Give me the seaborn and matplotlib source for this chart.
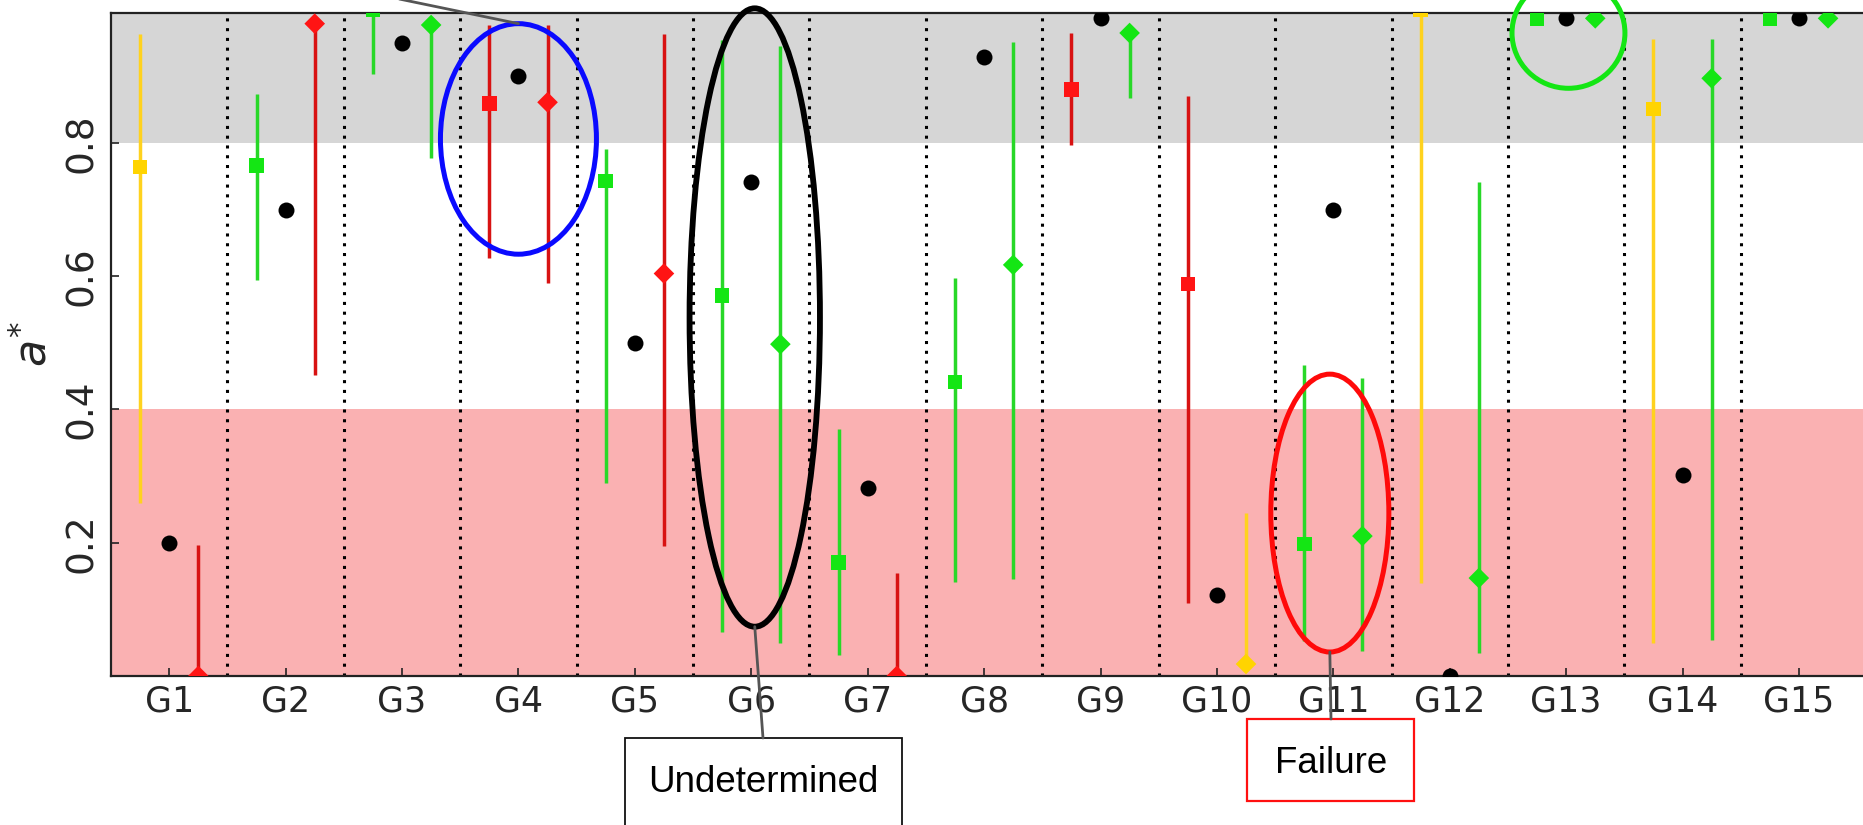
import numpy as np
import pandas as pd
import matplotlib
matplotlib.use("Agg")
import matplotlib.pyplot as plt
from matplotlib.patches import Ellipse, Rectangle
from matplotlib.lines import Line2D
import seaborn as sns

# ---------------- data ----------------
groups = ["G1", "G2", "G3", "G4", "G5", "G6", "G7", "G8", "G9", "G10",
          "G11", "G12", "G13", "G14", "G15"]

sq_val = [0.764, 0.766, 1.0, 0.859, 0.743, 0.571, 0.170, 0.441, 0.880, 0.588,
          0.198, 1.0, 0.987, 0.851, 0.987]
sq_lo = [0.260, 0.595, 0.904, 0.627, 0.290, 0.066, 0.032, 0.141, 0.797, 0.109,
         0.052, 0.139, 0.987, 0.049, 0.987]
sq_hi = [0.963, 0.873, 1.0, 0.977, 0.791, 0.954, 0.370, 0.598, 0.965, 0.870,
         0.466, 1.0, 0.987, 0.956, 0.987]
sq_col = ["yellow", "green", "green", "red", "green", "green", "green", "green",
          "red", "red", "green", "yellow", "green", "yellow", "green"]

ci_val = [0.200, 0.700, 0.950, 0.900, 0.500, 0.741, 0.282, 0.929, 0.988, 0.121,
          0.700, 0.0, 0.988, 0.301, 0.988]

di_val = [0.0, 0.979, 0.977, 0.861, 0.604, 0.498, 0.0, 0.617, 0.965, 0.018,
          0.210, 0.147, 0.987, 0.897, 0.987]
di_lo = [0.0, 0.452, 0.777, 0.590, 0.195, 0.050, 0.0, 0.145, 0.868, 0.018,
         0.037, 0.034, 0.987, 0.054, 0.987]
di_hi = [0.196, 0.979, 0.977, 0.977, 0.963, 0.945, 0.155, 0.952, 0.965, 0.245,
         0.447, 0.741, 0.987, 0.956, 0.987]
di_col = ["red", "red", "green", "red", "red", "green", "red", "green", "green",
          "yellow", "green", "green", "green", "green", "green"]

yticks = [0.2, 0.4, 0.6, 0.8]

marker_pal = {"red": "#ff1414", "green": "#14e614", "yellow": "#ffd400"}
bar_pal = {"red": "#d81212", "green": "#28d828", "yellow": "#ffd21e"}

# ---------------- style ----------------
sns.set_theme(style="white")
plt.rcParams["font.family"] = ["DejaVu Sans"]
plt.rcParams["mathtext.fontset"] = "dejavusans"

W, H = 1863, 825
fig = plt.figure(figsize=(W / 100, H / 100), dpi=100)
ax = fig.add_axes([111 / W, 1 - 676 / H, 1 - 111 / W, (676 - 13) / H])
ax.set_xlim(-0.5, 14.55)
ax.set_ylim(0, 0.995)

# background bands
ax.axhspan(0.8, 1.0, color="#d6d6d6", zorder=0, lw=0)
ax.axhspan(0.0, 0.4, color="#fab1b2", zorder=0, lw=0)

# dotted separators
for k in range(len(groups) - 1):
    ax.axvline(k + 0.5, color="black", lw=2.2, ls=(0, (1, 2.2)), zorder=1)

xpos = np.arange(len(groups))
off = 0.25

df_sq = pd.DataFrame({"x": xpos - off, "y": sq_val, "lo": sq_lo, "hi": sq_hi, "c": sq_col})
df_ci = pd.DataFrame({"x": xpos, "y": ci_val})
df_di = pd.DataFrame({"x": xpos + off, "y": di_val, "lo": di_lo, "hi": di_hi, "c": di_col})

# error bars
ax.vlines(df_sq["x"], df_sq["lo"], df_sq["hi"], colors=[bar_pal[c] for c in df_sq["c"]],
          lw=2.5, zorder=2)
ax.vlines(df_di["x"], df_di["lo"], df_di["hi"], colors=[bar_pal[c] for c in df_di["c"]],
          lw=2.5, zorder=2)

# markers
sns.scatterplot(data=df_sq, x="x", y="y", hue="c", palette=marker_pal, marker="s",
                s=10.5 ** 2, linewidth=0, legend=False, ax=ax, zorder=3)
sns.scatterplot(data=df_ci, x="x", y="y", color="black", marker="o",
                s=11.5 ** 2, linewidth=0, legend=False, ax=ax, zorder=3)
sns.scatterplot(data=df_di, x="x", y="y", hue="c", palette=marker_pal, marker="D",
                s=10.5 ** 2, linewidth=0, legend=False, ax=ax, zorder=3)

# axes cosmetics
ax.set_xticks(xpos)
ax.set_xticklabels(groups, fontsize=25)
ax.set_yticks(yticks)
ax.set_yticklabels([f"{v:.1f}" for v in yticks], fontsize=27, rotation=90, va="center")
ax.tick_params(axis="both", direction="in", length=6, width=1.2, color="#222222",
               bottom=True, left=True, top=False, right=False)
ax.tick_params(axis="x", pad=6)
ax.tick_params(axis="y", pad=8)
ax.set_xlabel("")
ax.set_ylabel("$a^{*}$", fontsize=32, labelpad=6)
for side in ["left", "bottom", "top"]:
    ax.spines[side].set_visible(True)
    ax.spines[side].set_color("#222222")
    ax.spines[side].set_linewidth(1.6)
ax.spines["right"].set_visible(False)
ax.grid(False)

# ---------------- annotations ----------------
ell_blue = Ellipse((3.0, 0.806), 1.34, 0.346, fill=False, edgecolor="#0a0aff",
                   lw=3.6, clip_on=False, zorder=5)
ell_black = Ellipse((5.03, 0.538), 1.12, 0.928, fill=False, edgecolor="black",
                    lw=4.2, clip_on=False, zorder=5)
ell_green = Ellipse((12.02, 0.965), 0.97, 0.166, fill=False, edgecolor="#14e614",
                    lw=3.6, clip_on=False, zorder=5)
ell_red = Ellipse((9.97, 0.2445), 1.014, 0.417, fill=False, edgecolor="#ff0a0a",
                  lw=3.6, clip_on=False, zorder=5)
for e in (ell_blue, ell_black, ell_green, ell_red):
    ax.add_patch(e)

# connector from blue ellipse top towards an (off-figure) label
ax.plot([3.0, 0.98], [0.979, 1.052], color="#555555", lw=2, clip_on=False, zorder=5)

fig.canvas.draw()


def to_fig(xd, yd):
    px, py = ax.transData.transform((xd, yd))
    return px / W, py / H


# Undetermined box
bx0, bx1, btop = 625, 902, 738
fig.add_artist(Rectangle((bx0 / W, -0.05), (bx1 - bx0) / W, (H - btop) / H + 0.05,
                         transform=fig.transFigure, facecolor="white",
                         edgecolor="#111111", lw=1.3))
fig.text(763 / W, (H - 792) / H, "Undetermined", ha="center", va="baseline",
         fontsize=26.5, family=["Liberation Sans", "DejaVu Sans"], color="black")
sx, sy = to_fig(5.03, 0.074)
fig.add_artist(Line2D([sx, 763 / W], [sy, (H - btop) / H], transform=fig.transFigure,
                      color="#555555", lw=2))

# Failure box
fx0, fx1, ftop, fbot = 1247, 1414, 719, 801
fig.add_artist(Rectangle((fx0 / W, (H - fbot) / H), (fx1 - fx0) / W, (fbot - ftop) / H,
                         transform=fig.transFigure, facecolor="white",
                         edgecolor="#ff1010", lw=1.6))
fig.text(1331 / W, (H - 773) / H, "Failure", ha="center", va="baseline",
         fontsize=26.5, family=["Liberation Sans", "DejaVu Sans"], color="black")
sx, sy = to_fig(9.97, 0.036)
fig.add_artist(Line2D([sx, 1331 / W], [sy, (H - ftop) / H], transform=fig.transFigure,
                      color="#555555", lw=2))

fig.savefig("out.png", dpi=100)
